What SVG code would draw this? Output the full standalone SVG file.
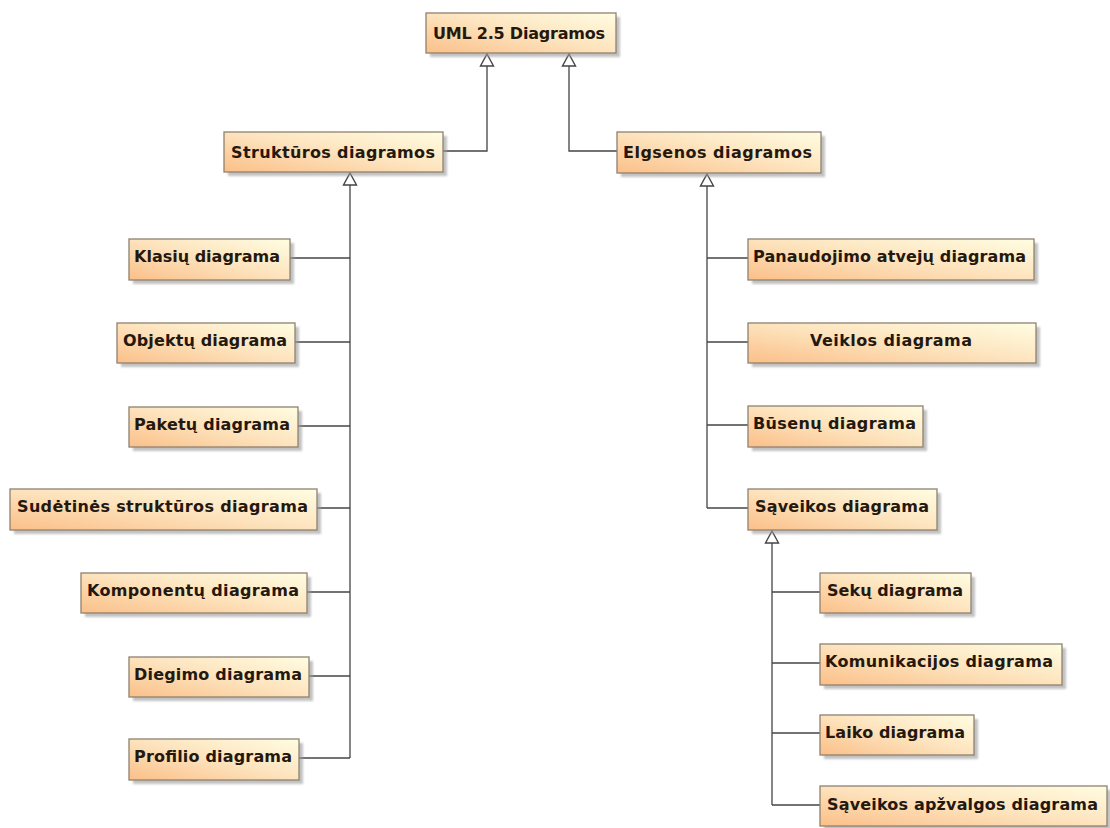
<svg xmlns="http://www.w3.org/2000/svg" width="1110" height="828" viewBox="0 0 1110 828">
<defs>
<linearGradient id="g" x1="0" y1="1" x2="1" y2="0">
<stop offset="0" stop-color="#fbbf88"/>
<stop offset="0.5" stop-color="#fde3bd"/>
<stop offset="1" stop-color="#fffde2"/>
</linearGradient>
<filter id="blur" x="-5%" y="-20%" width="110%" height="140%"><feGaussianBlur stdDeviation="1"/></filter>
</defs>
<style>
.sh{fill:#9a9a9a;opacity:0.6;filter:url(#blur)}
.bx{fill:url(#g);stroke:#8f8170;stroke-width:1.3}
.t{font-family:"DejaVu Sans",Verdana,sans-serif;font-weight:bold;font-size:16px;fill:#24180f}
.c{fill:none;stroke:#444;stroke-width:1.3}
.a{fill:#fff;stroke:#444;stroke-width:1.4}
</style>
<rect width="1110" height="828" fill="#fff"/>

<g id="connectors">
<path class="c" d="M443,151 H487 V54"/>
<path class="c" d="M617,151 H569 V54"/>
<path class="c" d="M350,173 V758"/>
<path class="c" d="M290,258 H350"/>
<path class="c" d="M295,342 H350"/>
<path class="c" d="M298,426 H350"/>
<path class="c" d="M317,508 H350"/>
<path class="c" d="M307,592 H350"/>
<path class="c" d="M309,676 H350"/>
<path class="c" d="M299,758 H350"/>
<path class="c" d="M707,174 V508"/>
<path class="c" d="M707,258 H748"/>
<path class="c" d="M707,342 H748"/>
<path class="c" d="M707,425 H748"/>
<path class="c" d="M707,508 H748"/>
<path class="c" d="M772,531 V805"/>
<path class="c" d="M772,592 H820"/>
<path class="c" d="M772,663 H820"/>
<path class="c" d="M772,733 H820"/>
<path class="c" d="M772,805 H820"/>
<path class="a" d="M487,54 L493.5,66 L480.5,66 Z"/>
<path class="a" d="M569,54 L575.5,66 L562.5,66 Z"/>
<path class="a" d="M350,173 L356.5,185 L343.5,185 Z"/>
<path class="a" d="M707,174 L713.5,186 L700.5,186 Z"/>
<path class="a" d="M772,531 L778.5,543 L765.5,543 Z"/>
</g>

<g id="uml">
<rect class="sh" x="430" y="17" width="190" height="40"/>
<rect class="bx" x="426" y="13" width="190" height="40"/>
<text class="t" x="433" y="39" textLength="172">UML 2.5 Diagramos</text>
</g>
<g id="struktur">
<rect class="sh" x="228" y="136" width="219" height="40"/>
<rect class="bx" x="224" y="132" width="219" height="40"/>
<text class="t" x="231" y="158" textLength="204">Struktūros diagramos</text>
</g>
<g id="elgsenos">
<rect class="sh" x="621" y="136" width="204" height="41"/>
<rect class="bx" x="617" y="132" width="204" height="41"/>
<text class="t" x="623" y="158" textLength="189">Elgsenos diagramos</text>
</g>

<g id="klasiu">
<rect class="sh" x="133" y="243" width="161" height="41"/>
<rect class="bx" x="129" y="239" width="161" height="41"/>
<text class="t" x="134" y="262" textLength="146">Klasių diagrama</text>
</g>
<g id="objektu">
<rect class="sh" x="121" y="327" width="178" height="40"/>
<rect class="bx" x="117" y="323" width="178" height="40"/>
<text class="t" x="123" y="346" textLength="164">Objektų diagrama</text>
</g>
<g id="paketu">
<rect class="sh" x="133" y="411" width="169" height="40"/>
<rect class="bx" x="129" y="407" width="169" height="40"/>
<text class="t" x="134" y="430" textLength="156">Paketų diagrama</text>
</g>
<g id="sudetines">
<rect class="sh" x="14" y="493" width="307" height="41"/>
<rect class="bx" x="10" y="489" width="307" height="41"/>
<text class="t" x="17" y="512" textLength="291">Sudėtinės struktūros diagrama</text>
</g>
<g id="komponentu">
<rect class="sh" x="85" y="577" width="226" height="40"/>
<rect class="bx" x="81" y="573" width="226" height="40"/>
<text class="t" x="87" y="596" textLength="212">Komponentų diagrama</text>
</g>
<g id="diegimo">
<rect class="sh" x="133" y="661" width="180" height="40"/>
<rect class="bx" x="129" y="657" width="180" height="40"/>
<text class="t" x="134" y="680" textLength="168">Diegimo diagrama</text>
</g>
<g id="profilio">
<rect class="sh" x="133" y="743" width="170" height="41"/>
<rect class="bx" x="129" y="739" width="170" height="41"/>
<text class="t" x="134" y="762" textLength="158">Profilio diagrama</text>
</g>

<g id="panaudojimo">
<rect class="sh" x="752" y="243" width="286" height="41"/>
<rect class="bx" x="748" y="239" width="286" height="41"/>
<text class="t" x="753" y="262" textLength="273">Panaudojimo atvejų diagrama</text>
</g>
<g id="veiklos">
<rect class="sh" x="752" y="327" width="288" height="40"/>
<rect class="bx" x="748" y="323" width="288" height="40"/>
<text class="t" x="810" y="346" textLength="162">Veiklos diagrama</text>
</g>
<g id="busenu">
<rect class="sh" x="752" y="410" width="175" height="41"/>
<rect class="bx" x="748" y="406" width="175" height="41"/>
<text class="t" x="753" y="429" textLength="163">Būsenų diagrama</text>
</g>
<g id="saveikos">
<rect class="sh" x="752" y="493" width="189" height="41"/>
<rect class="bx" x="748" y="489" width="189" height="41"/>
<text class="t" x="755" y="512" textLength="174">Sąveikos diagrama</text>
</g>

<g id="seku">
<rect class="sh" x="824" y="577" width="151" height="40"/>
<rect class="bx" x="820" y="573" width="151" height="40"/>
<text class="t" x="827" y="596" textLength="136">Sekų diagrama</text>
</g>
<g id="komunikacijos">
<rect class="sh" x="824" y="648" width="242" height="41"/>
<rect class="bx" x="820" y="644" width="242" height="41"/>
<text class="t" x="825" y="667" textLength="228">Komunikacijos diagrama</text>
</g>
<g id="laiko">
<rect class="sh" x="824" y="719" width="154" height="40"/>
<rect class="bx" x="820" y="715" width="154" height="40"/>
<text class="t" x="825" y="738" textLength="140">Laiko diagrama</text>
</g>
<g id="apzvalgos">
<rect class="sh" x="824" y="790" width="287" height="40"/>
<rect class="bx" x="820" y="786" width="287" height="40"/>
<text class="t" x="827" y="810" textLength="271">Sąveikos apžvalgos diagrama</text>
</g>
</svg>
